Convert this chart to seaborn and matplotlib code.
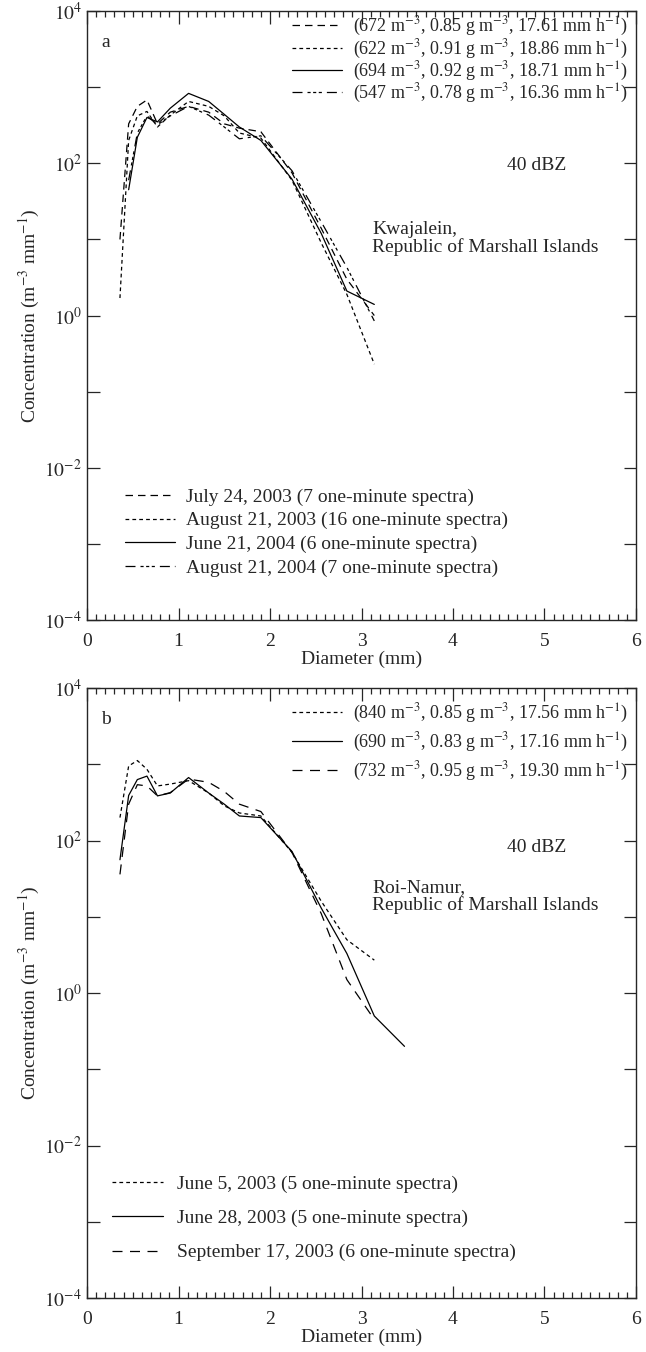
import numpy as np
import pandas as pd
import seaborn as sns
import matplotlib.pyplot as plt
from matplotlib.lines import Line2D
from matplotlib.ticker import LogLocator, MultipleLocator, FuncFormatter, NullLocator

nan = np.nan

# panel a: Kwajalein
diam_a = [0.36, 0.455, 0.55, 0.655, 0.77, 0.91, 1.11, 1.33, 1.5, 1.665, 1.9, 2.24, 2.56, 2.84, 3.14]
jul24_2003 = [10, 330, 560, 680, 330, 470, 560, 470, 330, 290, 260, 75, 14, 3.0, 1.0]
aug21_2003 = [1.7, 200, 420, 480, 300, 430, 650, 560, 420, 250, 215, 60, 9, 1.9, 0.23]
jun21_2004 = [nan, 45, 220, 400, 350, 530, 830, 650, 440, 300, 200, 62, 12, 2.1, 1.4]
aug21_2004 = [nan, 60, 250, 420, 320, 420, 560, 430, 300, 210, 230, 80, 17, 4.3, 0.85]

# panel b: Roi-Namur
diam_b = [0.36, 0.455, 0.55, 0.655, 0.77, 0.91, 1.11, 1.33, 1.5, 1.665, 1.9, 2.24, 2.56, 2.84, 3.14, 3.47]
jun05_2003 = [200, 950, 1120, 860, 520, 550, 610, 420, 285, 230, 210, 70, 16, 5.0, 2.7, nan]
jun28_2003 = [56, 390, 630, 700, 385, 420, 670, 420, 300, 210, 200, 72, 13, 3.3, 0.5, 0.2]
sep17_2003 = [36, 300, 540, 520, 385, 425, 640, 580, 440, 300, 240, 70, 11, 1.5, 0.45, nan]

params_a = [r"(672 m$^{-3}$, 0.85 g m$^{-3}$, 17.61 mm h$^{-1}$)",
            r"(622 m$^{-3}$, 0.91 g m$^{-3}$, 18.86 mm h$^{-1}$)",
            r"(694 m$^{-3}$, 0.92 g m$^{-3}$, 18.71 mm h$^{-1}$)",
            r"(547 m$^{-3}$, 0.78 g m$^{-3}$, 16.36 mm h$^{-1}$)"]
dates_a = ["July 24, 2003 (7 one-minute spectra)",
           "August 21, 2003 (16 one-minute spectra)",
           "June 21, 2004 (6 one-minute spectra)",
           "August 21, 2004 (7 one-minute spectra)"]
params_b = [r"(840 m$^{-3}$, 0.85 g m$^{-3}$, 17.56 mm h$^{-1}$)",
            r"(690 m$^{-3}$, 0.83 g m$^{-3}$, 17.16 mm h$^{-1}$)",
            r"(732 m$^{-3}$, 0.95 g m$^{-3}$, 19.30 mm h$^{-1}$)"]
dates_b = ["June 5, 2003 (5 one-minute spectra)",
           "June 28, 2003 (5 one-minute spectra)",
           "September 17, 2003 (6 one-minute spectra)"]

# line styles
DASH = (6, 4)
DOT = (3, 2.5)
SOLID = ""
DASHDOT = (8, 4, 2.5, 2, 2.5, 2, 2.5, 4)
LONGDASH = (8, 6)

sns.set_style("ticks")
plt.rcParams["font.family"] = ["Liberation Serif", "DejaVu Serif"]
plt.rcParams["mathtext.fontset"] = "stix"
plt.rcParams["axes.linewidth"] = 1.0

FS = 14
FS_P = 13


def long_df(diam, series):
    rows = []
    for name, vals in series.items():
        for d, v in zip(diam, vals):
            if not np.isnan(v):
                rows.append({"diameter": d, "conc": v, "series": name})
    return pd.DataFrame(rows)


def style_axes(ax):
    ax.set_yscale("log")
    ax.set_xlim(0, 6)
    ax.set_ylim(1e-4, 1e4)
    ax.xaxis.set_major_locator(MultipleLocator(1))
    ax.xaxis.set_minor_locator(MultipleLocator(0.1))
    ax.yaxis.set_major_locator(LogLocator(base=10, numticks=20))
    ax.yaxis.set_minor_locator(NullLocator())
    ax.yaxis.set_major_formatter(FuncFormatter(
        lambda v, p: r"$10^{%d}$" % round(np.log10(v)) if round(np.log10(v)) % 2 == 0 else ""))
    ax.tick_params(which="both", direction="in", top=True, right=True, labelsize=FS, width=0.9)
    ax.tick_params(which="major", length=9)
    ax.tick_params(which="minor", length=4.5)
    ax.tick_params(axis="x", pad=9)
    ax.set_xlabel("Diameter (mm)", fontsize=FS, labelpad=1)
    ax.set_ylabel(r"Concentration (m$^{-3}$ mm$^{-1}$)", fontsize=FS, labelpad=2)


def draw_panel(ax, diam, series, styles, params, dates, letter, site, leg):
    df = long_df(diam, series)
    sns.lineplot(data=df, x="diameter", y="conc", style="series", style_order=list(series),
                 dashes=dict(zip(series, styles)), color="black", lw=0.9,
                 estimator=None, sort=False, legend=False, ax=ax)
    style_axes(ax)
    handles = []
    for st in styles:
        if st == "":
            handles.append(Line2D([], [], color="black", lw=0.9, ls="-"))
        else:
            handles.append(Line2D([], [], color="black", lw=0.9, dashes=st))
    leg1 = ax.legend(handles, params, loc="upper right", bbox_to_anchor=leg["p_anchor"],
                     frameon=False, fontsize=FS_P, handlelength=2.8, handletextpad=0.6,
                     labelspacing=leg["p_space"], borderpad=0, borderaxespad=0)
    ax.add_artist(leg1)
    ax.legend(handles, dates, loc="lower left", bbox_to_anchor=leg["d_anchor"],
              frameon=False, fontsize=FS, handlelength=2.6, handletextpad=leg["d_pad"],
              labelspacing=leg["d_space"], borderpad=0, borderaxespad=0)
    ax.text(0.026, 0.948, letter, transform=ax.transAxes, fontsize=FS, va="center")
    ax.text(0.765, leg["dbz_y"], "40 dBZ", transform=ax.transAxes, fontsize=FS, va="center")
    ax.text(0.52, leg["site_y"], site, transform=ax.transAxes, fontsize=FS, va="center",
            linespacing=1.0)


fig = plt.figure(figsize=(6.46, 13.52), dpi=100)
ax_a = fig.add_axes([0.1347, 0.5414, 0.8498, 0.4504])
ax_b = fig.add_axes([0.1347, 0.0399, 0.8498, 0.4512])

draw_panel(ax_a, diam_a,
           {"jul24_2003": jul24_2003, "aug21_2003": aug21_2003,
            "jun21_2004": jun21_2004, "aug21_2004": aug21_2004},
           [DASH, DOT, SOLID, DASHDOT], params_a, dates_a, "a",
           "Kwajalein,\nRepublic of Marshall Islands",
           {"p_anchor": (0.985, 0.993), "p_space": -0.06,
            "d_anchor": (0.069, 0.071), "d_space": 0.31, "d_pad": 0.55,
            "dbz_y": 0.747, "site_y": 0.627})
draw_panel(ax_b, diam_b,
           {"jun05_2003": jun05_2003, "jun28_2003": jun28_2003, "sep17_2003": sep17_2003},
           [DOT, SOLID, LONGDASH], params_b, dates_b, "b",
           "Roi-Namur,\nRepublic of Marshall Islands",
           {"p_anchor": (0.985, 0.977), "p_space": 0.31,
            "d_anchor": (0.0455, 0.06), "d_space": 0.86, "d_pad": 0.75,
            "dbz_y": 0.738, "site_y": 0.658})

fig.savefig("out.png", dpi=100)
